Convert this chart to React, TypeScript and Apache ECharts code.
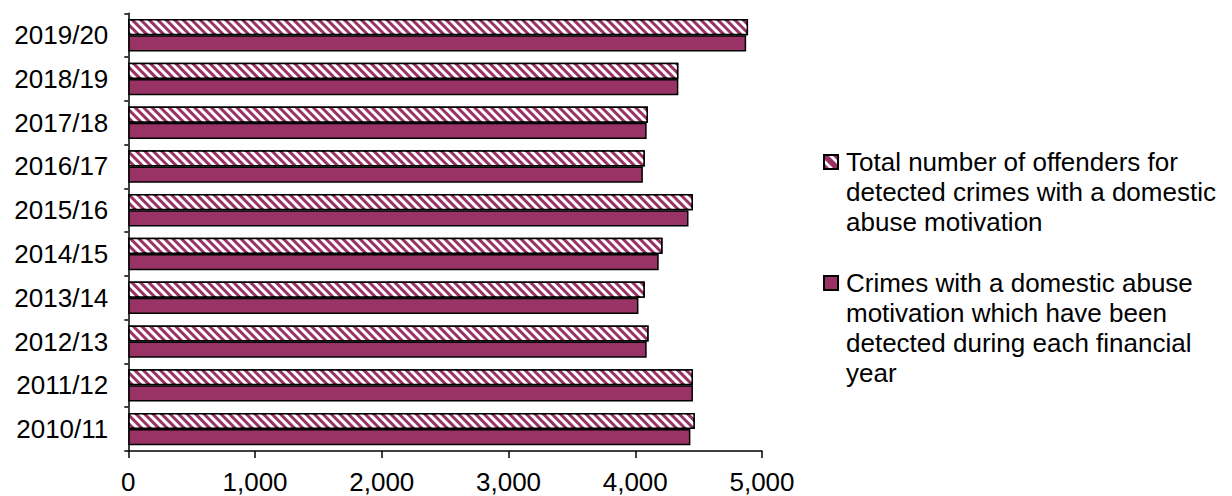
import React, { useEffect, useRef } from "react";
import * as echarts from "echarts";

const categories = ["2010/11", "2011/12", "2012/13", "2013/14", "2014/15", "2015/16", "2016/17", "2017/18", "2018/19", "2019/20"];
const offendersTotal = [4470, 4455, 4105, 4075, 4215, 4455, 4075, 4100, 4340, 4890];
const crimesDetected = [4435, 4455, 4090, 4025, 4185, 4420, 4060, 4090, 4340, 4875];
const seriesNames = [
  "Total number of offenders for detected crimes with a domestic abuse motivation",
  "Crimes with a domestic abuse motivation which have been detected during each financial year",
];
const legendLines = [
  ["Total number of offenders for", "detected crimes with a domestic", "abuse motivation"],
  ["Crimes with a domestic abuse", "motivation which have been", "detected during each financial", "year"],
];
const xTicks = { min: 0, max: 5000, interval: 1000 };

const PLUM = "#993366";
const FONT = "'Liberation Sans', Arial, sans-serif";

export default function App() {
  const ref = useRef<HTMLDivElement>(null);
  useEffect(() => {
    document.body.style.margin = "0";
    if (!ref.current) return;
    const chart = echarts.init(ref.current, undefined, { renderer: "svg" });

    const legendX = 824;
    const legendTextX = 846;
    const itemTops = [162, 283];
    const lineH = 30;
    const graphics: any[] = [];
    // icon 1: patterned square
    graphics.push({
      type: "group",
      x: legendX,
      y: itemTops[0] - 7,
      children: [
        { type: "rect", shape: { x: 0, y: 0, width: 14, height: 14 }, style: { fill: "#fff" } },
        { type: "polygon", shape: { points: [[0, 0], [4, 0], [14, 10], [14, 14], [10, 14], [0, 4]] }, style: { fill: PLUM } },
        { type: "polygon", shape: { points: [[8, 0], [12, 0], [14, 2], [14, 6]] }, style: { fill: PLUM } },
        { type: "polygon", shape: { points: [[0, 8], [6, 14], [2, 14], [0, 12]] }, style: { fill: PLUM } },
        { type: "rect", shape: { x: 0, y: 0, width: 14, height: 14 }, style: { fill: "none", stroke: "#000", lineWidth: 2 } },
      ],
    });
    graphics.push({
      type: "rect",
      shape: { x: legendX, y: itemTops[1] - 7, width: 14, height: 14 },
      style: { fill: PLUM, stroke: "#000", lineWidth: 2 },
    });
    legendLines.forEach((lines, i) => {
      lines.forEach((line, j) => {
        graphics.push({
          type: "text",
          x: legendTextX,
          y: itemTops[i] + j * lineH,
          style: {
            text: line,
            font: `26px ${FONT}`,
            fill: "#000",
            verticalAlign: "middle",
            align: "left",
          },
        });
      });
    });

    chart.setOption({
      animation: false,
      backgroundColor: "#fff",
      grid: { left: 128.3, right: 470, top: 13.3, bottom: 45, containLabel: false },
      legend: { show: false },
      xAxis: {
        type: "value",
        min: xTicks.min,
        max: xTicks.max,
        interval: xTicks.interval,
        splitLine: { show: false },
        axisLine: { show: true, lineStyle: { color: "#000", width: 1.5 } },
        axisTick: { show: true, length: 7, lineStyle: { color: "#000", width: 1.5 } },
        axisLabel: {
          color: "#000",
          fontSize: 26,
          fontFamily: FONT,
          margin: 18,
          formatter: (v: number) => v.toLocaleString("en-GB"),
        },
      },
      yAxis: {
        type: "category",
        data: categories,
        axisLine: { show: true, lineStyle: { color: "#000", width: 1.5 } },
        axisTick: { show: true, length: 4, lineStyle: { color: "#000", width: 1.5 } },
        axisLabel: { color: "#000", fontSize: 26, fontFamily: FONT, margin: 20 },
      },
      series: [
        {
          name: seriesNames[0],
          type: "bar",
          data: offendersTotal,
          barGap: "0%",
          barCategoryGap: "26%",
          itemStyle: {
            color: PLUM,
            borderColor: "#000",
            borderWidth: 1.5,
            decal: {
              symbol: "rect",
              color: "#ffffff",
              dashArrayX: [1, 0],
              dashArrayY: [3, 3],
              rotation: Math.PI / 4,
              symbolSize: 1,
            },
          },
        },
        {
          name: seriesNames[1],
          type: "bar",
          data: crimesDetected,
          barGap: "0%",
          barCategoryGap: "26%",
          itemStyle: { color: PLUM, borderColor: "#000", borderWidth: 1.5 },
        },
      ],
      graphic: graphics,
    });
    return () => chart.dispose();
  }, []);
  return <div ref={ref} style={{ width: 1232, height: 496 }} />;
}
